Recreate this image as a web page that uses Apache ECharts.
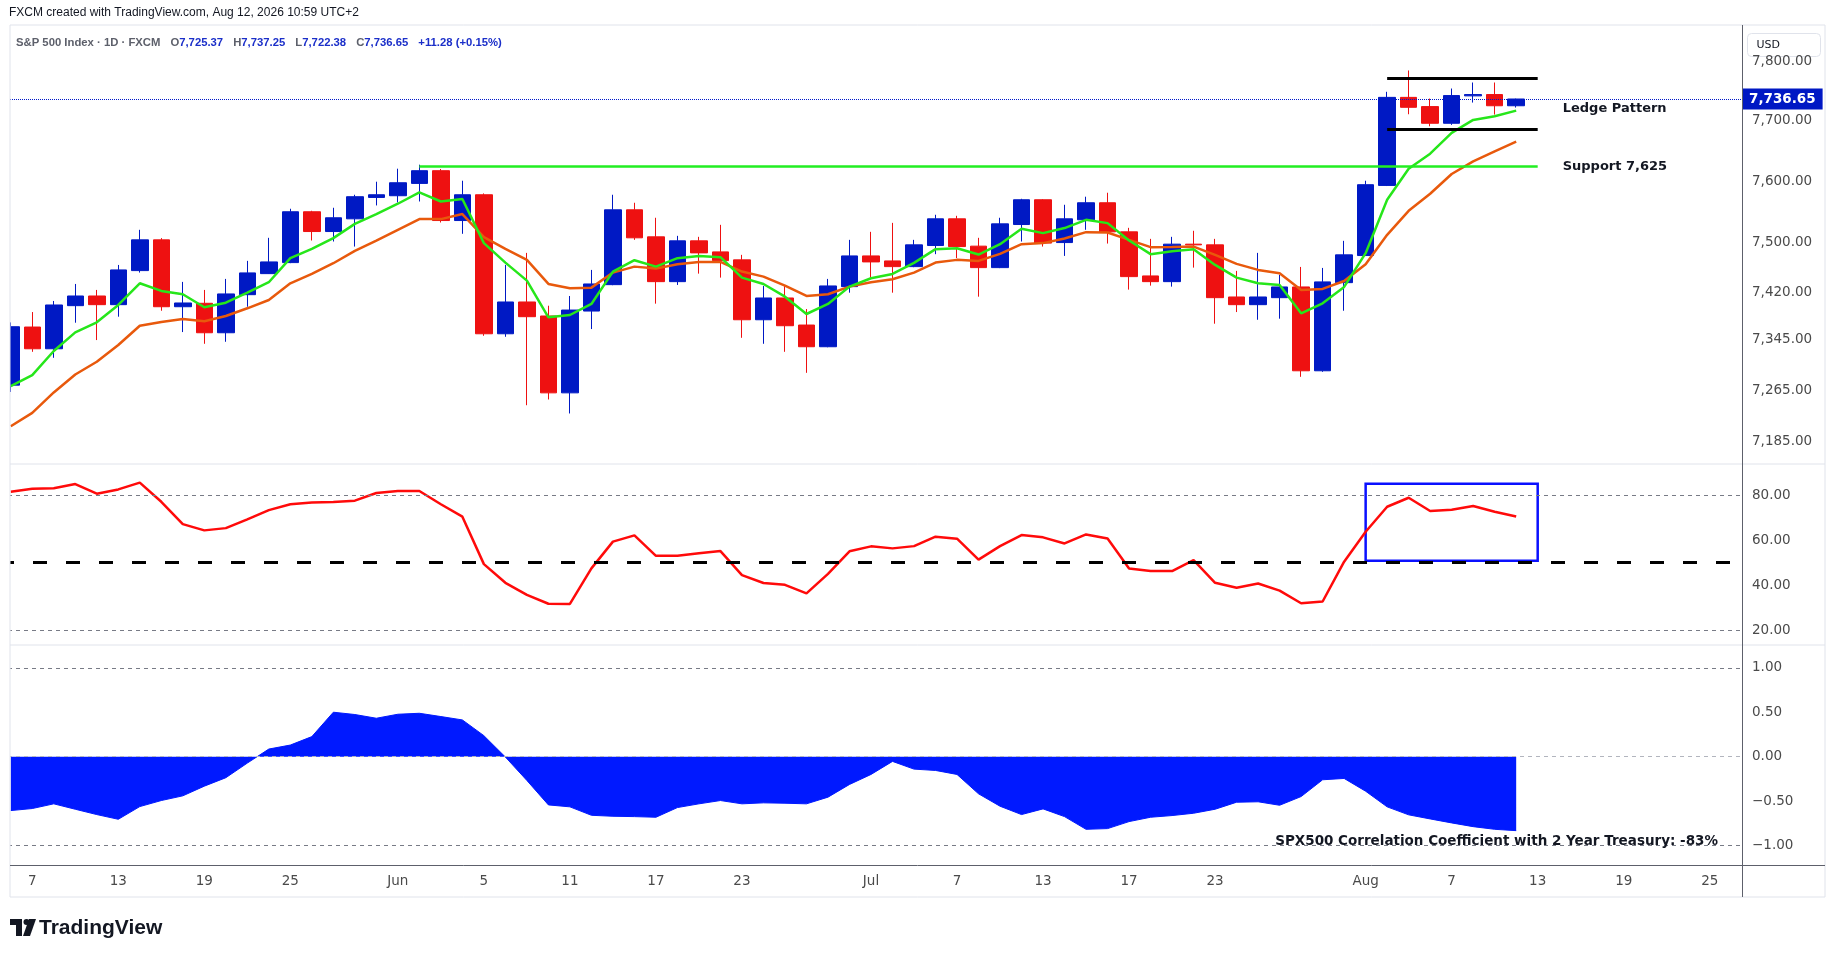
<!DOCTYPE html>
<html><head><meta charset="utf-8">
<script src="https://cdn.jsdelivr.net/npm/echarts@6/dist/echarts.min.js"></script>
<style>html,body{margin:0;padding:0;background:#fff}#c{width:1835px;height:959px}</style>
</head><body><div id="c"></div><script>
const dates = ['2026-05-06','2026-05-07','2026-05-08','2026-05-11','2026-05-12','2026-05-13','2026-05-14','2026-05-15','2026-05-18','2026-05-19','2026-05-20','2026-05-21','2026-05-22','2026-05-25','2026-05-26','2026-05-27','2026-05-28','2026-05-29',
'2026-06-01','2026-06-02','2026-06-03','2026-06-04','2026-06-05','2026-06-08','2026-06-09','2026-06-10','2026-06-11','2026-06-12','2026-06-15','2026-06-16','2026-06-17','2026-06-18','2026-06-19','2026-06-22','2026-06-23','2026-06-24','2026-06-25','2026-06-26','2026-06-29','2026-06-30',
'2026-07-01','2026-07-02','2026-07-03','2026-07-06','2026-07-07','2026-07-08','2026-07-09','2026-07-10','2026-07-13','2026-07-14','2026-07-15','2026-07-16','2026-07-17','2026-07-20','2026-07-21','2026-07-22','2026-07-23','2026-07-24','2026-07-27','2026-07-28','2026-07-29','2026-07-30','2026-07-31',
'2026-08-03','2026-08-04','2026-08-05','2026-08-06','2026-08-07','2026-08-10','2026-08-11','2026-08-12','2026-08-13','2026-08-14','2026-08-17','2026-08-18','2026-08-19','2026-08-20','2026-08-21','2026-08-24','2026-08-25','2026-08-26'];

const open = [7272.7,7364.6,7330.1,7398.7,7414.2,7400.3,7455.0,7504.7,7397.0,7402.5,7355.5,7416.3,7450.1,7467.9,7550.4,7518.2,7538.9,7573.8,7576.6,7596.8,7617.7,7536.1,7578.2,7353.9,7404.6,7382.2,7260.6,7390.1,7432.4,7553.6,7509.6,7437.2,7503.1,7485.2,7472.3,7376.2,7411.0,7367.8,7333.3,7429.2,7478.7,7470.6,7461.4,7495.5,7538.9,7494.5,7459.8,7529.6,7570.0,7500.3,7537.3,7565.1,7517.7,7446.4,7437.2,7497.7,7496.6,7412.6,7400.3,7411.5,7428.7,7295.3,7435.6,7479.3,7593.5,7739.4,7724.0,7696.2,7741.9,7744.1,7725.37];
const high = [7372.0,7388.5,7406.2,7433.5,7423.9,7464.1,7521.0,7507.5,7436.8,7423.9,7441.6,7470.7,7508.0,7555.3,7552.0,7556.9,7578.2,7599.6,7621.0,7627.6,7620.5,7601.2,7580.4,7464.1,7483.6,7398.6,7414.2,7456.1,7578.2,7565.1,7540.6,7511.2,7509.6,7529.1,7480.4,7430.3,7430.3,7393.3,7441.6,7504.7,7517.7,7532.3,7504.7,7545.5,7543.8,7508.0,7540.6,7571.6,7571.0,7561.8,7575.0,7581.5,7524.2,7506.3,7509.6,7519.4,7506.3,7454.5,7483.6,7448.0,7460.9,7459.3,7503.1,7601.2,7748.7,7784.5,7737.4,7754.2,7764.3,7764.3,7737.25];
const low = [7262.0,7325.3,7315.8,7371.5,7343.9,7381.1,7451.8,7390.6,7356.6,7338.0,7341.2,7397.0,7449.5,7467.0,7503.6,7502.0,7493.8,7560.7,7565.6,7567.2,7532.9,7514.5,7350.7,7349.1,7241.2,7250.2,7228.3,7361.4,7431.5,7504.7,7401.9,7431.9,7450.1,7443.7,7347.5,7338.0,7325.3,7292.1,7332.5,7419.5,7443.7,7419.5,7460.5,7481.5,7475.0,7413.1,7459.0,7502.0,7493.8,7478.7,7521.0,7498.7,7424.4,7430.8,7429.2,7459.8,7369.9,7388.5,7376.2,7377.9,7285.8,7293.7,7390.6,7478.5,7592.5,7711.2,7691.2,7693.5,7730.7,7710.7,7722.38];
const close = [7365.1,7330.1,7399.8,7414.2,7400.3,7456.1,7504.7,7397.0,7403.0,7355.5,7417.5,7451.3,7469.0,7550.4,7518.2,7540.6,7575.0,7578.2,7597.9,7617.7,7536.1,7578.2,7353.9,7404.6,7381.1,7260.6,7391.7,7433.5,7553.6,7508.0,7437.2,7503.1,7483.6,7471.1,7376.2,7411.0,7366.7,7333.3,7430.3,7478.7,7469.0,7461.4,7496.6,7538.9,7493.8,7459.8,7530.7,7570.0,7499.4,7538.9,7565.1,7517.7,7445.3,7437.2,7497.7,7496.6,7411.5,7400.3,7412.6,7428.7,7295.3,7436.8,7480.4,7594.7,7739.4,7722.8,7696.2,7742.4,7744.1,7725.37,7736.65];

const emaFast = [7271.1,7288.5,7326.5,7356.2,7372.1,7399.8,7434.6,7422.3,7417.0,7396.1,7403.5,7419.5,7436.3,7475.0,7490.1,7507.5,7530.7,7546.6,7563.5,7582.0,7567.2,7571.2,7499.4,7467.9,7438.8,7380.1,7383.8,7401.4,7453.4,7471.8,7461.4,7475.0,7478.7,7476.6,7443.7,7433.5,7413.1,7385.4,7401.4,7429.2,7442.7,7449.6,7467.4,7489.6,7491.2,7480.9,7497.7,7522.6,7515.6,7523.8,7537.3,7531.9,7503.6,7481.5,7486.4,7489.6,7464.2,7443.7,7434.6,7431.9,7386.5,7402.5,7428.7,7483.1,7570.0,7621.0,7645.8,7680.2,7701.8,7707.8,7717.3];
const emaSlow = [7208.4,7229.2,7261.2,7289.5,7309.5,7336.0,7366.7,7372.6,7377.4,7373.7,7382.2,7394.5,7407.8,7434.6,7449.6,7466.9,7486.9,7503.6,7521.0,7538.4,7538.4,7546.6,7509.1,7490.1,7472.3,7433.5,7426.6,7427.6,7451.8,7461.4,7458.2,7465.3,7469.0,7469.0,7453.4,7445.3,7430.8,7414.2,7417.0,7429.2,7436.3,7441.1,7451.8,7467.9,7472.3,7470.6,7482.0,7497.7,7499.4,7506.8,7517.2,7516.6,7504.7,7492.9,7493.3,7493.8,7480.4,7465.8,7456.1,7450.8,7423.9,7425.5,7438.3,7465.3,7512.8,7551.9,7579.9,7612.3,7633.1,7649.6,7665.7];

const rsi = [81.5,82.8,83.0,84.9,80.6,82.5,85.5,77.0,67.1,64.3,65.3,69.2,73.3,75.9,76.7,76.9,77.5,80.9,81.8,81.8,75.9,70.4,49.3,41.0,35.6,31.7,31.6,47.4,59.3,62.1,53.0,53.0,54.1,55.1,44.4,40.9,40.1,36.3,45.0,55.0,57.2,56.3,57.3,61.5,60.6,51.3,57.3,62.2,61.2,58.5,62.5,60.7,47.4,46.2,46.2,51.1,41.0,38.8,40.7,37.5,31.9,32.7,50.4,63.7,74.8,78.8,72.9,73.5,75.1,72.6,70.5];

const corr = [-0.607,-0.584,-0.531,-0.592,-0.652,-0.705,-0.562,-0.494,-0.441,-0.332,-0.237,-0.072,0.086,0.131,0.226,0.501,0.475,0.433,0.478,0.489,0.452,0.414,0.237,-0.004,-0.268,-0.543,-0.565,-0.660,-0.671,-0.675,-0.682,-0.573,-0.531,-0.494,-0.531,-0.520,-0.524,-0.531,-0.456,-0.313,-0.200,-0.053,-0.140,-0.155,-0.200,-0.418,-0.558,-0.652,-0.588,-0.675,-0.818,-0.810,-0.731,-0.682,-0.663,-0.637,-0.592,-0.513,-0.508,-0.547,-0.449,-0.260,-0.245,-0.389,-0.565,-0.655,-0.701,-0.746,-0.788,-0.818,-0.833];

const xTickDates = ['2026-05-07','2026-05-13','2026-05-19','2026-05-25','2026-06-01','2026-06-05','2026-06-11','2026-06-17','2026-06-23','2026-07-01','2026-07-07','2026-07-13','2026-07-17','2026-07-23','2026-08-03','2026-08-07','2026-08-13','2026-08-19','2026-08-25'];
const xTickLabels = ['7','13','19','25','Jun','5','11','17','23','Jul','7','13','17','23','Aug','7','13','19','25'];
const priceTicks = [7185,7265,7345,7420,7500,7600,7700,7800];
const rsiTicks = [20,40,60,80];
const corrTicks = [1,0.5,0,-0.5,-1];

const supportLevel = 7625;
const ledgeTop = 7771;
const ledgeBottom = 7687;
const ledgeLabelLevel = 7720;
const rsiBox = {x0:'2026-08-03', x1:'2026-08-13', top:85, bottom:50.8};

const FONT = 'DejaVu Sans';
const AXC = '#4a4a4a';
const n = close.length;
const fmt = (v, d) => { const s = Math.abs(v).toFixed(d).replace(/\B(?=(\d{3})+(?!\d))/g, ','); return (v < 0 ? '\u2212' : '') + s; };
const tickMap = {}; xTickDates.forEach((d, i) => tickMap[d] = xTickLabels[i]);
const candleData = open.map((o, i) => [o, close[i], low[i], high[i]]);
const chg = close[n-1] - close[n-2];
const pct = chg / close[n-2] * 100;
const sign = v => (v >= 0 ? '+' : '');

const tickLabel = (txt) => ({show:true, position:'end', distance:10, formatter:txt, color:AXC, fontSize:13.5, fontFamily:FONT});
const clear = {color:'rgba(0,0,0,0)', width:1};
const grayDash = {color:'#787b86', type:[4,4], width:1};

const chart = echarts.init(document.getElementById('c'), null, {renderer:'canvas'});
chart.setOption({
  animation:false,
  backgroundColor:'#ffffff',
  title:[
    {text:'FXCM created with TradingView.com, Aug 12, 2026 10:59 UTC+2', left:9, top:7, padding:0,
     textStyle:{fontFamily:'Liberation Sans', fontSize:12, fontWeight:'normal', color:'#131722'}},
    {text:'{g|S&P 500 Index · 1D · FXCM}  {g|O}{b|' + fmt(open[n-1],2) + '}  {g|H}{b|' + fmt(high[n-1],2) + '}  {g|L}{b|' + fmt(low[n-1],2) + '}  {g|C}{b|' + fmt(close[n-1],2) + '}  {b|' + sign(chg) + chg.toFixed(2) + ' (' + sign(pct) + pct.toFixed(2) + '%)}',
     left:16, top:34, padding:0,
     textStyle:{rich:{g:{fontFamily:'Liberation Sans', fontSize:11.3, color:'#5d606b'}, b:{fontFamily:'Liberation Sans', fontSize:11.3, color:'#1b2fc9'}}}}
  ],
  grid:[
    {left:-1.75, right:93, top:25, height:439},
    {left:-1.75, right:93, top:464, height:180},
    {left:-1.75, right:93, top:645, height:220}
  ],
  xAxis:[
    {type:'category', data:dates, gridIndex:0, show:false},
    {type:'category', data:dates, gridIndex:1, show:false},
    {type:'category', data:dates, gridIndex:2, axisLine:{show:false}, axisTick:{show:false}, splitLine:{show:false},
     axisLabel:{interval:(i, v) => tickMap[v] !== undefined, formatter:v => tickMap[v] || '', color:AXC, fontSize:13.5, fontFamily:FONT, margin:9}}
  ],
  yAxis:[
    {type:'log', gridIndex:0, position:'right', min:7149.8, max:7861.4, show:false},
    {type:'value', gridIndex:1, position:'right', min:13.8, max:93.8, show:false},
    {type:'value', gridIndex:2, position:'right', min:-1.22, max:1.258, show:false}
  ],
  series:[
    {type:'candlestick', name:'S&P 500', xAxisIndex:0, yAxisIndex:0, data:candleData, barWidth:17, z:2,
     itemStyle:{color:'#0019c4', color0:'#ee1111', borderColor:'#0019c4', borderColor0:'#ee1111', borderWidth:1}},
    {type:'line', name:'EMA slow', xAxisIndex:0, yAxisIndex:0, data:emaSlow, symbol:'none', z:3,
     lineStyle:{color:'#e8590c', width:2.5}, itemStyle:{color:'#e8590c'},
     markLine:{silent:true, symbol:['none','none'], animation:false,
       data: priceTicks.map(v => ({yAxis:v, lineStyle:clear, label:tickLabel(fmt(v,2))})).concat([
         {yAxis:close[n-1], lineStyle:{color:'#0019c8', type:'dotted', width:1},
          label:{show:true, position:'end', distance:0, formatter:fmt(close[n-1],2), color:'#ffffff', backgroundColor:'#0018c4',
                 fontWeight:'bold', fontSize:13.5, fontFamily:FONT, padding:[4,7,3,7]}}
       ])}},
    {type:'line', name:'EMA fast', xAxisIndex:0, yAxisIndex:0, data:emaFast, symbol:'none', z:4,
     lineStyle:{color:'#26e61a', width:2.5}, itemStyle:{color:'#26e61a'},
     markLine:{silent:true, symbol:['none','none'], animation:false,
       data:[
         [{coord:['2026-06-02', supportLevel], lineStyle:{color:'#22ee22', width:2.5, type:'solid'},
           label:{show:true, position:'end', distance:25, formatter:'Support 7,625', color:'#131722', fontWeight:'bold', fontSize:13, fontFamily:FONT}},
          {coord:['2026-08-13', supportLevel]}],
         [{coord:['2026-08-04', ledgeTop], lineStyle:{color:'#000000', width:3, type:'solid'}, label:{show:false}},
          {coord:['2026-08-13', ledgeTop]}],
         [{coord:['2026-08-04', ledgeBottom], lineStyle:{color:'#000000', width:3, type:'solid'}, label:{show:false}},
          {coord:['2026-08-13', ledgeBottom]}]
       ]},
     markPoint:{silent:true, animation:false, symbol:'circle', symbolSize:0,
       data:[{coord:['2026-08-13', ledgeLabelLevel], symbolSize:0,
              label:{show:true, position:'right', distance:25, formatter:'Ledge Pattern', color:'#131722', fontWeight:'bold', fontSize:13, fontFamily:FONT}}]}},
    {type:'line', name:'RSI', xAxisIndex:1, yAxisIndex:1, data:rsi, symbol:'none', z:3,
     lineStyle:{color:'#ff0a0a', width:2.5}, itemStyle:{color:'#ff0a0a'},
     markLine:{silent:true, symbol:['none','none'], animation:false,
       data: rsiTicks.map(v => ({yAxis:v, lineStyle:(v === 80 || v === 20) ? grayDash : clear, label:tickLabel(fmt(v,2))})).concat([
         {yAxis:50, lineStyle:{color:'#000000', type:[14,19], width:3}, label:{show:false}}
       ])},
     markArea:{silent:true, itemStyle:{color:'rgba(0,0,0,0)', borderColor:'#0a10ff', borderWidth:2.5},
       data:[[{xAxis:rsiBox.x0, yAxis:rsiBox.top}, {xAxis:rsiBox.x1, yAxis:rsiBox.bottom}]]}},
    {type:'line', name:'Correlation', xAxisIndex:2, yAxisIndex:2, data:corr, symbol:'none', z:3,
     lineStyle:{color:'#0019ff', width:1}, itemStyle:{color:'#0019ff'}, areaStyle:{color:'#0019ff', opacity:1},
     markLine:{silent:true, symbol:['none','none'], animation:false,
       data: corrTicks.map(v => ({yAxis:v,
         lineStyle:(v === 1 || v === -1) ? grayDash : (v === 0 ? {color:'#b2b5be', type:[4,4], width:1} : clear),
         label:tickLabel(fmt(v,2))}))}}
  ],
  graphic:[
    {type:'rect', shape:{x:0, y:20, width:10, height:880}, style:{fill:'#ffffff'}, z:100, silent:true},
    {type:'line', shape:{x1:10, y1:25, x2:1825, y2:25}, style:{stroke:'#e0e3eb', lineWidth:1}, z:101, silent:true},
    {type:'line', shape:{x1:10, y1:25, x2:10, y2:897}, style:{stroke:'#e0e3eb', lineWidth:1}, z:101, silent:true},
    {type:'line', shape:{x1:1825, y1:25, x2:1825, y2:897}, style:{stroke:'#e0e3eb', lineWidth:1}, z:101, silent:true},
    {type:'line', shape:{x1:10, y1:464, x2:1825, y2:464}, style:{stroke:'#e0e3eb', lineWidth:1}, z:101, silent:true},
    {type:'line', shape:{x1:10, y1:645, x2:1825, y2:645}, style:{stroke:'#e0e3eb', lineWidth:1}, z:101, silent:true},
    {type:'line', shape:{x1:10, y1:897, x2:1825, y2:897}, style:{stroke:'#e0e3eb', lineWidth:1}, z:101, silent:true},
    {type:'line', shape:{x1:10, y1:865.5, x2:1825, y2:865.5}, style:{stroke:'#5d606b', lineWidth:1}, z:102, silent:true},
    {type:'line', shape:{x1:1742.5, y1:25, x2:1742.5, y2:897}, style:{stroke:'#5d606b', lineWidth:1}, z:102, silent:true},
    {type:'group', left:1747, top:33, z:110, children:[
      {type:'rect', shape:{x:0, y:0, width:73, height:23, r:4}, style:{fill:'#ffffff', stroke:'#e0e3eb', lineWidth:1}},
      {type:'text', x:9, y:12, style:{text:'USD', font:'11px "DejaVu Sans"', fill:'#131722', verticalAlign:'middle'}}
    ]},
    {type:'text', x:1718, y:841, z:110, silent:true,
     style:{text:'SPX500 Correlation Coefficient with 2 Year Treasury: -83%', font:'bold 13.5px "DejaVu Sans"', fill:'#131722', align:'right', verticalAlign:'middle'}},
    {type:'group', left:10, top:919, z:110, children:[
      {type:'rect', shape:{x:0, y:0, width:12, height:6}, style:{fill:'#131722'}},
      {type:'rect', shape:{x:6, y:0, width:6, height:17}, style:{fill:'#131722'}},
      {type:'circle', shape:{cx:16.5, cy:3, r:3}, style:{fill:'#131722'}},
      {type:'polygon', shape:{points:[[19,0],[26,0],[20,17],[13,17]]}, style:{fill:'#131722'}}
    ]},
    {type:'text', x:39, y:928, z:110, silent:true,
     style:{text:'TradingView', font:'bold 21px "Liberation Sans"', fill:'#131722', verticalAlign:'middle'}}
  ]
});
</script></body></html>
